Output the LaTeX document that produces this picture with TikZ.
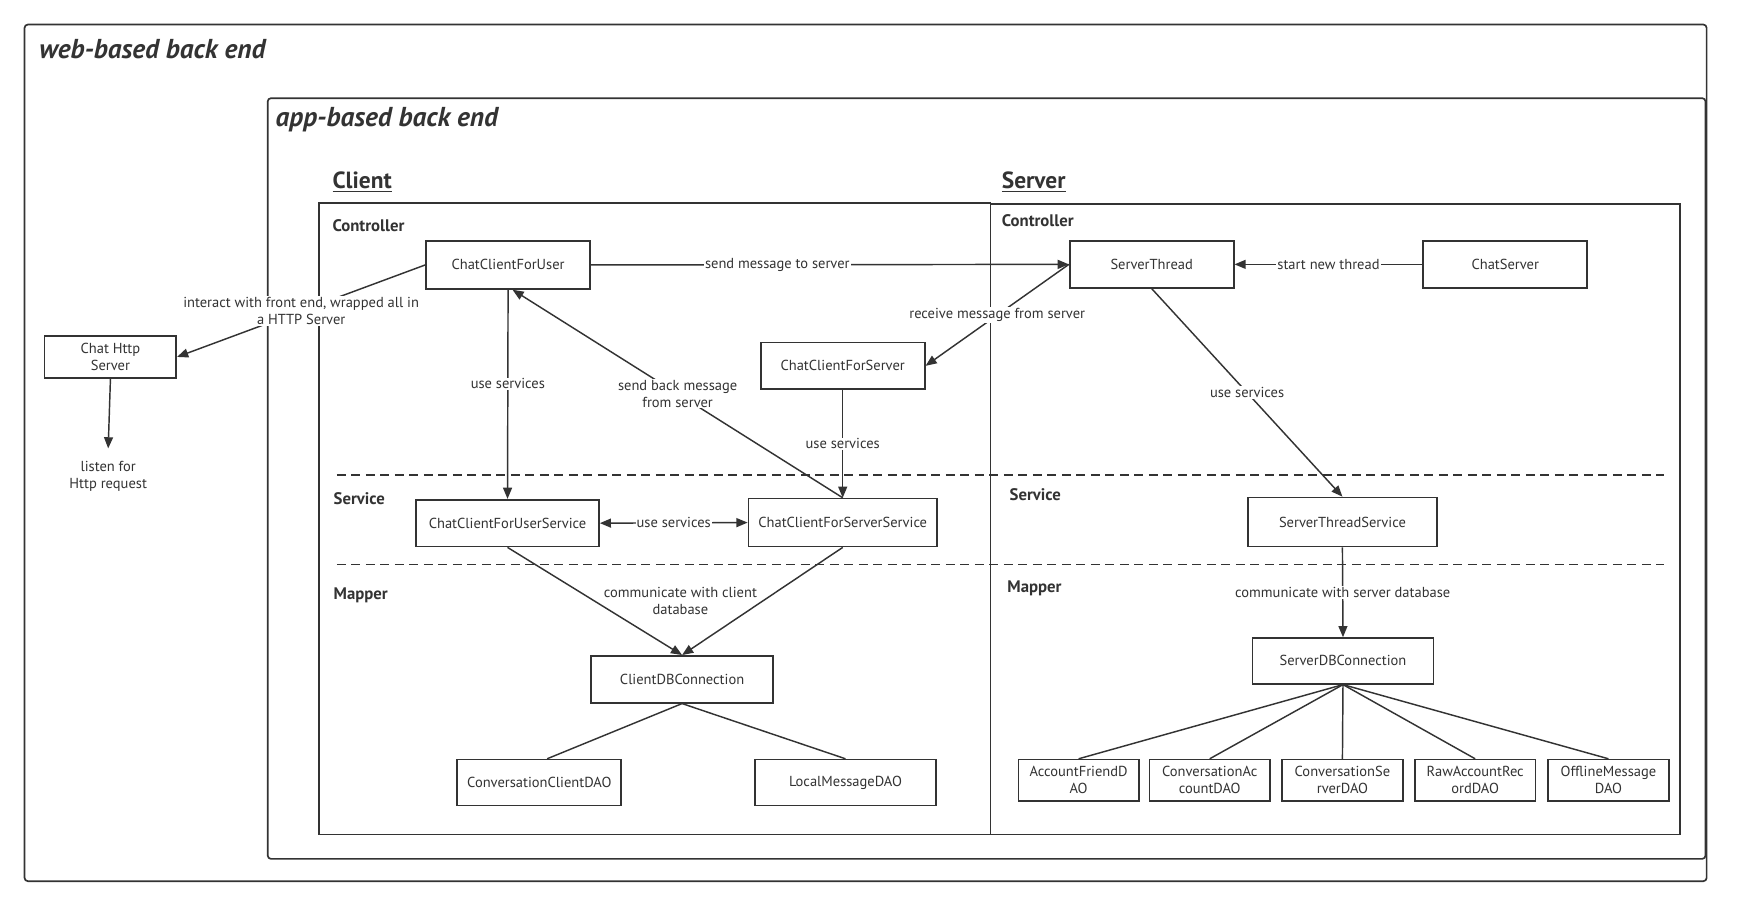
\documentclass[tikz,border=0pt]{standalone}
\usepackage{fontspec}
\setmainfont{PT Sans}
\usetikzlibrary{arrows.meta}
\definecolor{ln}{HTML}{333333}
\begin{document}
\begin{tikzpicture}[x=1pt,y=-1pt,
  box/.style={draw=ln, line width=1.5pt, align=center, text=ln, font=\fontsize{13}{15}\selectfont, inner sep=1pt},
  dao/.style={box, minimum width=108, minimum height=37},
  arr/.style={draw=ln, line width=1.3pt, -{Triangle[length=10pt,width=8pt]}},
  dbl/.style={draw=ln, line width=1.3pt, {Triangle[length=10pt,width=8pt]}-{Triangle[length=10pt,width=8pt]}},
  plain/.style={draw=ln, line width=1.3pt},
  lbl/.style={fill=white, text=ln, font=\fontsize{13}{15}\selectfont, inner sep=1pt, align=center},
  txt/.style={text=ln, font=\fontsize{13}{15}\selectfont, inner sep=1pt, align=center},
  sect/.style={text=ln, font=\bfseries\fontsize{15}{17}\selectfont, anchor=west, inner sep=0pt},
  side/.style={text=ln, font=\bfseries\fontsize{21}{23}\selectfont, anchor=west, inner sep=0pt},
  title/.style={text=ln, font=\bfseries\itshape\fontsize{24.5}{27}\selectfont, anchor=west, inner sep=0pt},
  frame/.style={draw=ln, line width=1.5pt},
  layer/.style={draw=ln, line width=1.5pt, dash pattern=on 8pt off 5pt}]
\useasboundingbox (0,0) rectangle (1568,812);
\fill[white] (0,0) rectangle (1568,812);

% containers
\draw[frame, rounded corners=3pt] (22,22) rectangle (1530,790);
\node[title] (tweb) at (35,44) {web-based back end};
\draw[frame, rounded corners=3pt] (240,88) rectangle (1529,770);
\node[title] (tapp) at (247,107) {app-based back end};
\node[side] (tclient) at (298,163) {\underline{Client}};
\node[side] (tserver) at (898,163) {\underline{Server}};
\draw[frame] (286,182) rectangle (888,748);
\draw[frame] (888,183) rectangle (1506,748);
\draw[layer] (302,426) -- (1492,426);
\draw[layer] (302,506) -- (1492,506);
\node[sect] (cctl) at (298,202) {Controller};
\node[sect] (sctl) at (898,198) {Controller};
\node[sect] (csvc) at (299,447) {Service};
\node[sect] (ssvc) at (905,443) {Service};
\node[sect] (cmap) at (299,534) {Mapper};
\node[sect] (smap) at (903,527) {Mapper};

% nodes
\node[box, minimum width=147, minimum height=43] (ccu) at (455.5,237.5) {ChatClientForUser};
\node[box, minimum width=118, minimum height=38] (http) at (99,320) {Chat Http\\Server};
\node[txt] (listen) at (97,427) {listen for\\Http request};
\coordinate (listentop) at (97,402);
\node[box, minimum width=147, minimum height=42] (ccs) at (755.5,328) {ChatClientForServer};
\node[box, minimum width=147, minimum height=42] (st) at (1032.5,237) {ServerThread};
\node[box, minimum width=147, minimum height=42] (cs) at (1349.5,237) {ChatServer};
\node[box, minimum width=164, minimum height=42] (ccus) at (455,469) {ChatClientForUserService};
\node[box, minimum width=169, minimum height=43] (ccss) at (755.5,468.5) {ChatClientForServerService};
\node[box, minimum width=169, minimum height=44] (sts) at (1203.5,468) {ServerThreadService};
\node[box, minimum width=163, minimum height=42] (cdb) at (611.5,609) {ClientDBConnection};
\node[box, minimum width=147, minimum height=41] (ccdao) at (483.5,701.5) {ConversationClientDAO};
\node[box, minimum width=162, minimum height=41] (lmdao) at (758,701.5) {LocalMessageDAO};
\node[box, minimum width=162, minimum height=41] (sdb) at (1204,592.5) {ServerDBConnection};
\node[dao] (d1) at (967,699.5) {AccountFriendD\\AO};
\node[dao] (d2) at (1084.5,699.5) {ConversationAc\\countDAO};
\node[dao] (d3) at (1203.5,699.5) {ConversationSe\\rverDAO};
\node[dao] (d4) at (1322.5,699.5) {RawAccountRec\\ordDAO};
\node[dao] (d5) at (1442,699.5) {OfflineMessage\\DAO};

% connectors
\draw[arr] (ccu.west) -- node[lbl] {interact with front end, wrapped all in\\a HTTP Server} (http.east);
\draw[arr] (http.south) -- (listentop);
\draw[arr] (ccu.east) -- node[lbl, pos=0.39] {send message to server} (st.west);
\draw[arr] (cs.west) -- node[lbl] {start new thread} (st.east);
\draw[arr] (st.west) -- node[lbl] {receive message from server} (ccs.east);
\draw[arr] (ccu.south) -- node[lbl, pos=0.45] {use services} (ccus.north);
\draw[arr] (ccss.north) -- node[lbl] {send back message\\from server} ([xshift=4pt]ccu.south);
\draw[arr] (ccs.south) -- node[lbl] {use services} (ccss.north);
\draw[dbl] (ccus.east) -- node[lbl] {use services} (ccss.west);
\draw[arr] (st.south) -- node[lbl] {use services} (sts.north);
\draw[arr] (ccus.south) -- (cdb.north);
\draw[arr] (ccss.south) -- (cdb.north);
\node[txt] (cdblbl) at (610,539) {communicate with client\\database};
\draw[plain] (cdb.south) -- ([xshift=7pt]ccdao.north);
\draw[plain] (cdb.south) -- (lmdao.north);
\draw[arr] (sts.south) -- node[lbl] {communicate with server database} (sdb.north);
\foreach \d in {d1,d2,d3,d4,d5} \draw[plain] (sdb.south) -- (\d.north);
\end{tikzpicture}
\end{document}
